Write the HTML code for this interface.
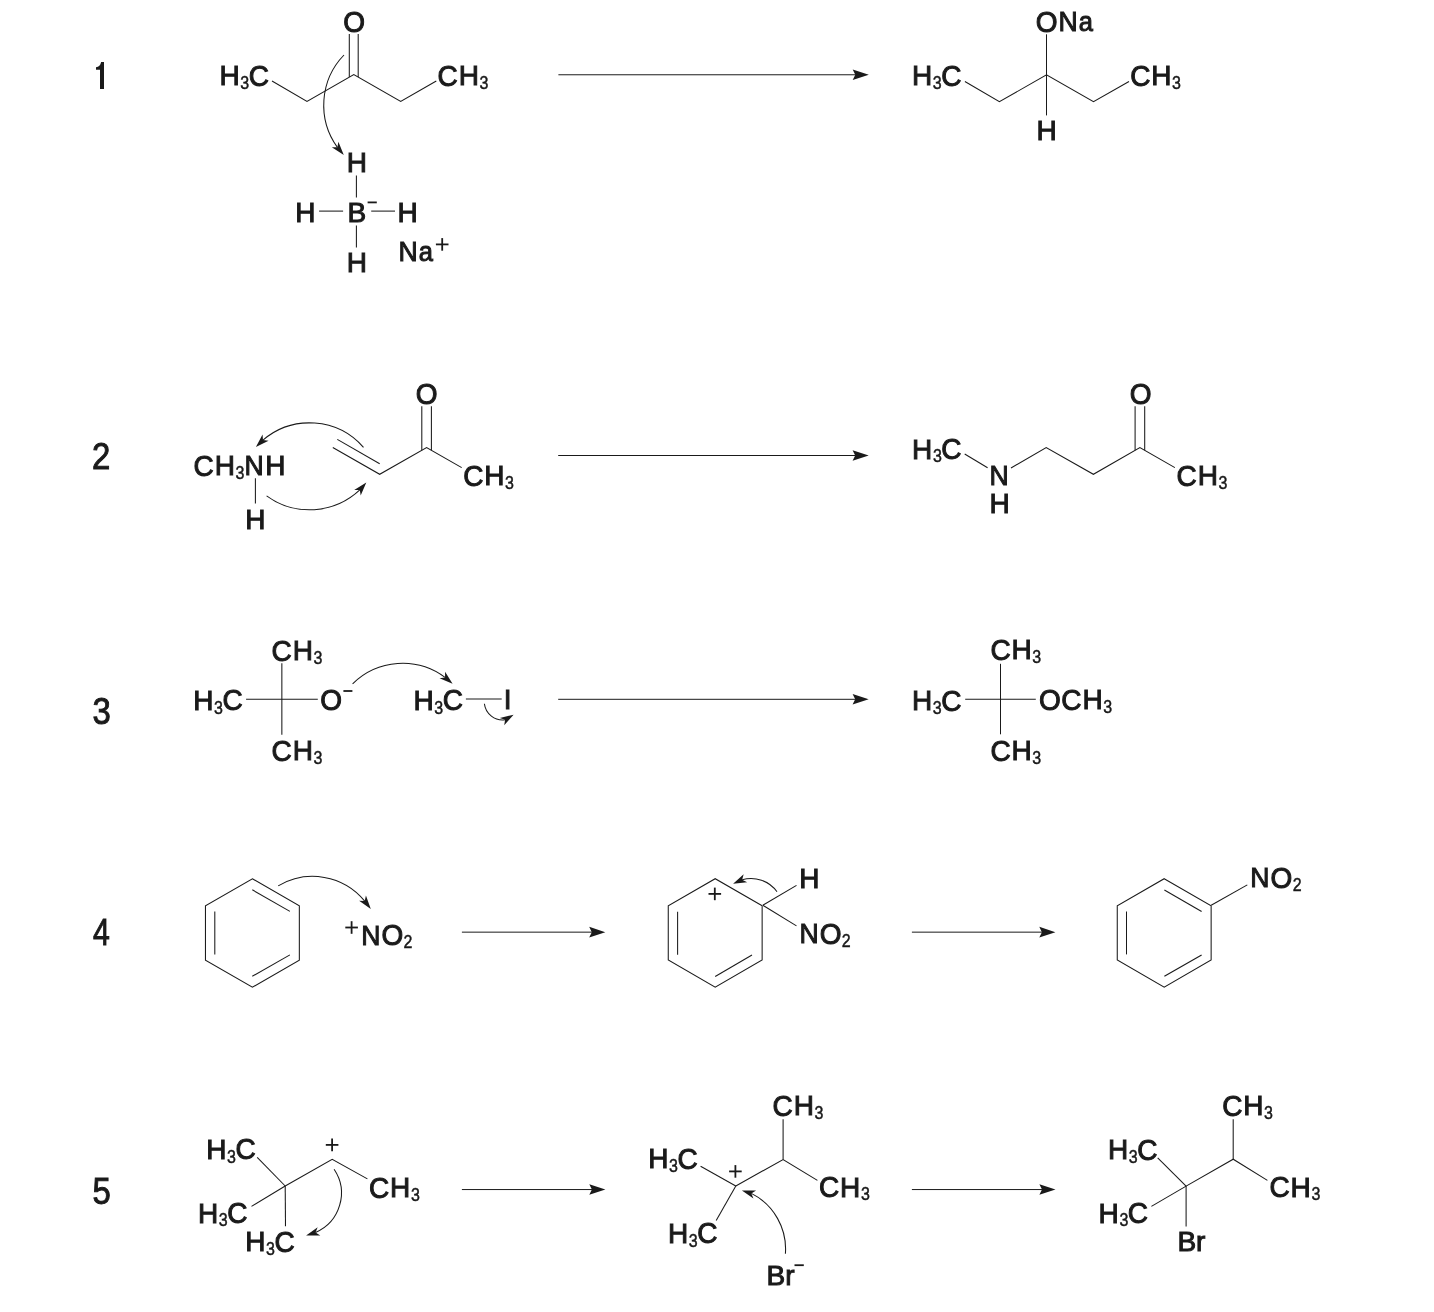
<!DOCTYPE html>
<html><head><meta charset="utf-8"><style>
html,body{margin:0;padding:0;background:#fff;}
svg{display:block;filter:grayscale(1);}
text{font-family:"Liberation Sans",sans-serif;fill:#1a1a1a;stroke:#1a1a1a;font-kerning:none;}
line,polyline,path{stroke:#1a1a1a;fill:none;stroke-linecap:butt;stroke-linejoin:miter;}
path.f{fill:#1a1a1a;stroke:none;}
</style></head><body>
<svg width="1434" height="1312" viewBox="0 0 1434 1312">
<rect width="1434" height="1312" fill="#fff"/>
<path class="f" d="M100 88.9 L104 88.9 L104 62.1 L101.1 62.1 C100.4 65.4 98.9 67.1 96 67.2 L96 69.8 L100 69.8 Z"/>
<text transform="translate(92.05 469.3) scale(0.87 1)" font-size="37.8" stroke-width="1">2</text>
<text transform="translate(92.45 724.1) scale(0.87 1)" font-size="37.8" stroke-width="1">3</text>
<text transform="translate(93.01 944.6) scale(0.8 1)" font-size="37.8" stroke-width="1">4</text>
<text transform="translate(92.38 1204.1) scale(0.87 1)" font-size="37.8" stroke-width="1">5</text>
<text x="219.4" y="85" font-size="28" stroke-width="1">H</text>
<text transform="translate(240.22 89) scale(0.85 1)" font-size="18.8" stroke-width="0.5">3</text>
<text transform="translate(248.67 86) scale(1 1.07)" font-size="28" stroke-width="0.97">C</text>
<polyline points="272,81 307,101.5 353.8,74.5 400.7,101.5 436.3,81" stroke-width="1.05"/>
<line x1="349.3" y1="33.9" x2="349.3" y2="77.1" stroke-width="1.05"/>
<line x1="358.2" y1="33.9" x2="358.2" y2="77.1" stroke-width="1.05"/>
<text transform="translate(343.17 32) scale(1 1.07)" font-size="28" stroke-width="0.97">O</text>
<text transform="translate(437.58 86) scale(1 1.07)" font-size="28" stroke-width="0.97">C</text>
<text x="458.7" y="85" font-size="28" stroke-width="1">H</text>
<text transform="translate(479.52 89) scale(0.85 1)" font-size="18.8" stroke-width="0.5">3</text>
<path class="f" d="M343.8 154.9 L331.81 147.35 L337.42 147.33 L338.38 141.81 Z"/>
<path d="M344 55 A72.04 72.04 0 0 0 337.42 147.33" stroke-width="1.05"/>
<text x="346.8" y="172" font-size="28" stroke-width="1">H</text>
<text x="347.5" y="222" font-size="28" stroke-width="1">B</text>
<line x1="367.6" y1="202.4" x2="376.8" y2="202.4" stroke-width="1.8"/>
<text x="295.3" y="222" font-size="28" stroke-width="1">H</text>
<text x="397.6" y="222" font-size="28" stroke-width="1">H</text>
<text x="346.8" y="272" font-size="28" stroke-width="1">H</text>
<line x1="356.4" y1="175.5" x2="356.4" y2="197.4" stroke-width="1.05"/>
<line x1="356.4" y1="225.5" x2="356.4" y2="247.5" stroke-width="1.05"/>
<line x1="319.1" y1="211.1" x2="343.1" y2="211.1" stroke-width="1.05"/>
<line x1="371.2" y1="211.1" x2="395" y2="211.1" stroke-width="1.05"/>
<text transform="translate(398.42 261) scale(0.95 1)" font-size="28" stroke-width="1.03">N</text>
<text transform="translate(418.64 261) scale(0.91 1)" font-size="28" stroke-width="1.05">a</text>
<line x1="435.9" y1="244.4" x2="448.5" y2="244.4" stroke-width="1.8"/>
<line x1="442.2" y1="238.1" x2="442.2" y2="250.7" stroke-width="1.8"/>
<line x1="558.4" y1="74.78" x2="855.8" y2="74.78" stroke-width="1"/>
<path class="f" d="M868.8 74.78 L852.7 69.48 L855.3 74.78 L852.7 80.08 Z"/>
<text x="912" y="85" font-size="28" stroke-width="1">H</text>
<text transform="translate(932.82 89) scale(0.85 1)" font-size="18.8" stroke-width="0.5">3</text>
<text transform="translate(941.27 86) scale(1 1.07)" font-size="28" stroke-width="0.97">C</text>
<text transform="translate(1130.18 86) scale(1 1.07)" font-size="28" stroke-width="0.97">C</text>
<text x="1151.3" y="85" font-size="28" stroke-width="1">H</text>
<text transform="translate(1172.12 89) scale(0.85 1)" font-size="18.8" stroke-width="0.5">3</text>
<polyline points="964.9,81.5 999.4,101.7 1046.5,74.9 1093.5,101.7 1129,81.5" stroke-width="1.05"/>
<line x1="1046.5" y1="34.3" x2="1046.5" y2="115.4" stroke-width="1.05"/>
<text transform="translate(1035.77 32) scale(1 1.07)" font-size="28" stroke-width="0.97">O</text>
<text transform="translate(1058.5 31) scale(0.95 1)" font-size="28" stroke-width="1.03">N</text>
<text transform="translate(1078.72 31) scale(0.91 1)" font-size="28" stroke-width="1.05">a</text>
<text x="1036.5" y="140" font-size="28" stroke-width="1">H</text>
<text transform="translate(193.58 476) scale(1 1.07)" font-size="28" stroke-width="0.97">C</text>
<text x="214.7" y="475" font-size="28" stroke-width="1">H</text>
<text transform="translate(235.52 479) scale(0.85 1)" font-size="18.8" stroke-width="0.5">3</text>
<text transform="translate(244.41 475) scale(0.95 1)" font-size="28" stroke-width="1.03">N</text>
<text x="265.33" y="475" font-size="28" stroke-width="1">H</text>
<line x1="255.4" y1="478.3" x2="255.4" y2="503.4" stroke-width="1.05"/>
<text x="245.2" y="529" font-size="28" stroke-width="1">H</text>
<polyline points="332.8,447.5 379.7,474.3 426.6,447.5 461.7,467.6" stroke-width="1.05"/>
<line x1="337.3" y1="439.4" x2="379.7" y2="463.7" stroke-width="1.05"/>
<line x1="421.8" y1="406.3" x2="421.8" y2="450.2" stroke-width="1.05"/>
<line x1="431.4" y1="406.3" x2="431.4" y2="450.2" stroke-width="1.05"/>
<text transform="translate(415.67 404) scale(1 1.07)" font-size="28" stroke-width="0.97">O</text>
<text transform="translate(463.18 486) scale(1 1.07)" font-size="28" stroke-width="0.97">C</text>
<text x="484.3" y="485" font-size="28" stroke-width="1">H</text>
<text transform="translate(505.12 489) scale(0.85 1)" font-size="18.8" stroke-width="0.5">3</text>
<path class="f" d="M255.9 447 L262.55 434.49 L262.98 440.08 L268.56 440.64 Z"/>
<path d="M363.5 447.4 A71.67 71.67 0 0 0 262.98 440.08" stroke-width="1.05"/>
<path class="f" d="M366.3 482.5 L360.7 495.51 L359.81 489.98 L354.2 489.88 Z"/>
<path d="M266.6 495.8 A73.29 73.29 0 0 0 359.81 489.98" stroke-width="1.05"/>
<line x1="558.2" y1="455.5" x2="855.7" y2="455.5" stroke-width="1"/>
<path class="f" d="M868.7 455.5 L852.6 450.2 L855.2 455.5 L852.6 460.8 Z"/>
<text x="912.1" y="459" font-size="28" stroke-width="1">H</text>
<text transform="translate(932.92 462) scale(0.85 1)" font-size="18.8" stroke-width="0.5">3</text>
<text transform="translate(941.37 459) scale(1 1.07)" font-size="28" stroke-width="0.97">C</text>
<line x1="964.7" y1="454" x2="987.6" y2="467.8" stroke-width="1.05"/>
<text transform="translate(989.62 485) scale(0.95 1)" font-size="28" stroke-width="1.03">N</text>
<text x="989.5" y="513" font-size="28" stroke-width="1">H</text>
<polyline points="1011,468 1046.2,447.5 1093.4,474.3 1139.9,447.5 1174.9,467.6" stroke-width="1.05"/>
<line x1="1135.1" y1="406.3" x2="1135.1" y2="450.2" stroke-width="1.05"/>
<line x1="1144.7" y1="406.3" x2="1144.7" y2="450.2" stroke-width="1.05"/>
<text transform="translate(1129.77 404) scale(1 1.07)" font-size="28" stroke-width="0.97">O</text>
<text transform="translate(1176.58 486) scale(1 1.07)" font-size="28" stroke-width="0.97">C</text>
<text x="1197.7" y="485" font-size="28" stroke-width="1">H</text>
<text transform="translate(1218.52 489) scale(0.85 1)" font-size="18.8" stroke-width="0.5">3</text>
<text transform="translate(271.58 661) scale(1 1.07)" font-size="28" stroke-width="0.97">C</text>
<text x="292.7" y="660" font-size="28" stroke-width="1">H</text>
<text transform="translate(313.52 664) scale(0.85 1)" font-size="18.8" stroke-width="0.5">3</text>
<line x1="281.85" y1="663.3" x2="281.85" y2="734.8" stroke-width="1.05"/>
<text x="193.2" y="710" font-size="28" stroke-width="1">H</text>
<text transform="translate(214.02 714) scale(0.85 1)" font-size="18.8" stroke-width="0.5">3</text>
<text transform="translate(222.47 710) scale(1 1.07)" font-size="28" stroke-width="0.97">C</text>
<line x1="246.1" y1="699.25" x2="317.8" y2="699.25" stroke-width="1.05"/>
<text transform="translate(320.37 710) scale(1 1.07)" font-size="28" stroke-width="0.97">O</text>
<line x1="343.4" y1="691" x2="352.4" y2="691" stroke-width="1.8"/>
<text transform="translate(271.58 761) scale(1 1.07)" font-size="28" stroke-width="0.97">C</text>
<text x="292.7" y="760" font-size="28" stroke-width="1">H</text>
<text transform="translate(313.52 764) scale(0.85 1)" font-size="18.8" stroke-width="0.5">3</text>
<path class="f" d="M452.6 683.8 L439.53 678.34 L445.05 677.39 L445.09 671.78 Z"/>
<path d="M352.6 683.8 A71.12 71.12 0 0 1 445.05 677.39" stroke-width="1.05"/>
<text x="413.5" y="710" font-size="28" stroke-width="1">H</text>
<text transform="translate(434.32 714) scale(0.85 1)" font-size="18.8" stroke-width="0.5">3</text>
<text transform="translate(442.77 710) scale(1 1.07)" font-size="28" stroke-width="0.97">C</text>
<line x1="465.9" y1="699" x2="501.7" y2="699" stroke-width="1.05"/>
<text x="503.82" y="709" font-size="28" stroke-width="1">I</text>
<path class="f" d="M513.6 714.7 L504.21 725.31 L505.1 719.78 L499.8 717.93 Z"/>
<path d="M484.4 703.7 A18.38 18.38 0 0 0 505.1 719.78" stroke-width="1.05"/>
<line x1="558.2" y1="699.3" x2="855.7" y2="699.3" stroke-width="1"/>
<path class="f" d="M868.7 699.3 L852.6 694 L855.2 699.3 L852.6 704.6 Z"/>
<text transform="translate(990.38 660) scale(1 1.07)" font-size="28" stroke-width="0.97">C</text>
<text x="1011.5" y="659" font-size="28" stroke-width="1">H</text>
<text transform="translate(1032.32 663) scale(0.85 1)" font-size="18.8" stroke-width="0.5">3</text>
<line x1="1000.5" y1="663.8" x2="1000.5" y2="734.3" stroke-width="1.05"/>
<text x="912" y="710" font-size="28" stroke-width="1">H</text>
<text transform="translate(932.82 714) scale(0.85 1)" font-size="18.8" stroke-width="0.5">3</text>
<text transform="translate(941.27 711) scale(1 1.07)" font-size="28" stroke-width="0.97">C</text>
<line x1="965.2" y1="699.3" x2="1035.8" y2="699.3" stroke-width="1.05"/>
<text transform="translate(1039.07 710) scale(1 1.07)" font-size="28" stroke-width="0.97">O</text>
<text transform="translate(1061.28 710) scale(1 1.07)" font-size="28" stroke-width="0.97">C</text>
<text x="1082.4" y="709" font-size="28" stroke-width="1">H</text>
<text transform="translate(1103.22 713) scale(0.85 1)" font-size="18.8" stroke-width="0.5">3</text>
<text transform="translate(990.38 761) scale(1 1.07)" font-size="28" stroke-width="0.97">C</text>
<text x="1011.5" y="760" font-size="28" stroke-width="1">H</text>
<text transform="translate(1032.32 764) scale(0.85 1)" font-size="18.8" stroke-width="0.5">3</text>
<path d="M252.4 878.8 L299.34 905.9 L299.34 960.1 L252.4 987.2 L205.46 960.1 L205.46 905.9 Z" stroke-width="1.05"/>
<line x1="252.3" y1="889.8" x2="289.9" y2="911.4" stroke-width="1.05"/>
<line x1="214.8" y1="911.5" x2="214.8" y2="954.6" stroke-width="1.05"/>
<line x1="252.3" y1="976.3" x2="289.9" y2="954.9" stroke-width="1.05"/>
<path class="f" d="M370.8 908.9 L359.13 900.86 L364.74 901.07 L365.93 895.59 Z"/>
<path d="M278.2 885.9 A67.28 67.28 0 0 1 364.74 901.07" stroke-width="1.05"/>
<line x1="345.3" y1="927.5" x2="357.9" y2="927.5" stroke-width="1.8"/>
<line x1="351.6" y1="921.2" x2="351.6" y2="933.8" stroke-width="1.8"/>
<text transform="translate(361.22 945) scale(0.95 1)" font-size="28" stroke-width="1.03">N</text>
<text transform="translate(381.44 945) scale(1 1.07)" font-size="28" stroke-width="0.97">O</text>
<text transform="translate(403.57 948) scale(0.85 1)" font-size="18.8" stroke-width="0.5">2</text>
<line x1="461.9" y1="932.15" x2="592.3" y2="932.15" stroke-width="1"/>
<path class="f" d="M605.3 932.15 L589.2 926.85 L591.8 932.15 L589.2 937.45 Z"/>
<polyline points="762.14,905.8 762.14,960 715.2,987.1 668.26,960 668.26,905.8 715.2,878.7 762.14,905.8" stroke-width="1.05"/>
<line x1="677.6" y1="911.8" x2="677.6" y2="954.7" stroke-width="1.05"/>
<line x1="715.2" y1="976.5" x2="752" y2="955" stroke-width="1.05"/>
<line x1="708.5" y1="893.9" x2="721.1" y2="893.9" stroke-width="1.8"/>
<line x1="714.8" y1="887.6" x2="714.8" y2="900.2" stroke-width="1.8"/>
<line x1="762.8" y1="905.3" x2="796.5" y2="885.4" stroke-width="1.05"/>
<line x1="762.8" y1="905.3" x2="796.5" y2="925.9" stroke-width="1.05"/>
<text x="799.3" y="888" font-size="28" stroke-width="1">H</text>
<text transform="translate(799.42 943) scale(0.95 1)" font-size="28" stroke-width="1.03">N</text>
<text transform="translate(819.64 944) scale(1 1.07)" font-size="28" stroke-width="0.97">O</text>
<text transform="translate(841.77 947) scale(0.85 1)" font-size="18.8" stroke-width="0.5">2</text>
<path class="f" d="M733.1 883.8 L743.66 874.35 L742.13 879.75 L747.18 882.2 Z"/>
<path d="M777 891.8 A31.91 31.91 0 0 0 742.13 879.75" stroke-width="1.05"/>
<line x1="911.9" y1="932.15" x2="1042.4" y2="932.15" stroke-width="1"/>
<path class="f" d="M1055.4 932.15 L1039.3 926.85 L1041.9 932.15 L1039.3 937.45 Z"/>
<path d="M1164.2 878.7 L1211.14 905.8 L1211.14 960 L1164.2 987.1 L1117.26 960 L1117.26 905.8 Z" stroke-width="1.05"/>
<line x1="1164.4" y1="890" x2="1201.6" y2="911.5" stroke-width="1.05"/>
<line x1="1126.5" y1="911.5" x2="1126.5" y2="954.4" stroke-width="1.05"/>
<line x1="1164.4" y1="976.2" x2="1201.6" y2="955" stroke-width="1.05"/>
<line x1="1211.2" y1="905.3" x2="1247.3" y2="884.9" stroke-width="1.05"/>
<text transform="translate(1250.32 887) scale(0.95 1)" font-size="28" stroke-width="1.03">N</text>
<text transform="translate(1270.54 888) scale(1 1.07)" font-size="28" stroke-width="0.97">O</text>
<text transform="translate(1292.67 891) scale(0.85 1)" font-size="18.8" stroke-width="0.5">2</text>
<line x1="285.2" y1="1186" x2="257.2" y2="1157.4" stroke-width="1.05"/>
<line x1="285.2" y1="1186" x2="251.5" y2="1206.4" stroke-width="1.05"/>
<line x1="285.2" y1="1186" x2="285.5" y2="1226.2" stroke-width="1.05"/>
<polyline points="285.2,1186 332.2,1159.3 367.4,1178.9" stroke-width="1.05"/>
<text x="206.3" y="1159" font-size="28" stroke-width="1">H</text>
<text transform="translate(227.12 1163) scale(0.85 1)" font-size="18.8" stroke-width="0.5">3</text>
<text transform="translate(235.57 1159) scale(1 1.07)" font-size="28" stroke-width="0.97">C</text>
<text x="197.9" y="1223" font-size="28" stroke-width="1">H</text>
<text transform="translate(218.72 1226) scale(0.85 1)" font-size="18.8" stroke-width="0.5">3</text>
<text transform="translate(227.17 1223) scale(1 1.07)" font-size="28" stroke-width="0.97">C</text>
<text x="245.2" y="1251" font-size="28" stroke-width="1">H</text>
<text transform="translate(266.02 1255) scale(0.85 1)" font-size="18.8" stroke-width="0.5">3</text>
<text transform="translate(274.47 1252) scale(1 1.07)" font-size="28" stroke-width="0.97">C</text>
<text transform="translate(368.98 1198) scale(1 1.07)" font-size="28" stroke-width="0.97">C</text>
<text x="390.1" y="1197" font-size="28" stroke-width="1">H</text>
<text transform="translate(410.92 1201) scale(0.85 1)" font-size="18.8" stroke-width="0.5">3</text>
<line x1="325.8" y1="1144.9" x2="338.4" y2="1144.9" stroke-width="1.8"/>
<line x1="332.1" y1="1138.6" x2="332.1" y2="1151.2" stroke-width="1.8"/>
<path class="f" d="M306.1 1235.5 L317.67 1227.33 L315.54 1232.51 L320.27 1235.52 Z"/>
<path d="M334.1 1169.2 A42.9 42.9 0 0 1 315.54 1232.51" stroke-width="1.05"/>
<line x1="461.9" y1="1189.55" x2="592.4" y2="1189.55" stroke-width="1"/>
<path class="f" d="M605.4 1189.55 L589.3 1184.25 L591.9 1189.55 L589.3 1194.85 Z"/>
<line x1="700.6" y1="1166.2" x2="735.8" y2="1186" stroke-width="1.05"/>
<line x1="716.2" y1="1220.6" x2="735.8" y2="1186" stroke-width="1.05"/>
<polyline points="735.8,1186 783.1,1159.5 817.4,1180.4" stroke-width="1.05"/>
<line x1="783.1" y1="1119.3" x2="783.1" y2="1159.5" stroke-width="1.05"/>
<text transform="translate(772.58 1116) scale(1 1.07)" font-size="28" stroke-width="0.97">C</text>
<text x="793.7" y="1115" font-size="28" stroke-width="1">H</text>
<text transform="translate(814.52 1119) scale(0.85 1)" font-size="18.8" stroke-width="0.5">3</text>
<text transform="translate(818.98 1197) scale(1 1.07)" font-size="28" stroke-width="0.97">C</text>
<text x="840.1" y="1197" font-size="28" stroke-width="1">H</text>
<text transform="translate(860.92 1200) scale(0.85 1)" font-size="18.8" stroke-width="0.5">3</text>
<text x="648.2" y="1168" font-size="28" stroke-width="1">H</text>
<text transform="translate(669.02 1172) scale(0.85 1)" font-size="18.8" stroke-width="0.5">3</text>
<text transform="translate(677.47 1169) scale(1 1.07)" font-size="28" stroke-width="0.97">C</text>
<text x="668" y="1243" font-size="28" stroke-width="1">H</text>
<text transform="translate(688.82 1247) scale(0.85 1)" font-size="18.8" stroke-width="0.5">3</text>
<text transform="translate(697.27 1243) scale(1 1.07)" font-size="28" stroke-width="0.97">C</text>
<line x1="729.1" y1="1171.4" x2="741.7" y2="1171.4" stroke-width="1.8"/>
<line x1="735.4" y1="1165.1" x2="735.4" y2="1177.7" stroke-width="1.8"/>
<text x="766.5" y="1285" font-size="28" stroke-width="1">B</text>
<text x="785.18" y="1285" font-size="28" stroke-width="1">r</text>
<line x1="794.5" y1="1265.2" x2="803.8" y2="1265.2" stroke-width="1.8"/>
<path class="f" d="M741.9 1190.4 L756.07 1190.4 L751.33 1193.4 L753.46 1198.59 Z"/>
<path d="M785.4 1253.7 A62.34 62.34 0 0 0 751.33 1193.4" stroke-width="1.05"/>
<line x1="911.9" y1="1189.55" x2="1042.5" y2="1189.55" stroke-width="1"/>
<path class="f" d="M1055.5 1189.55 L1039.4 1184.25 L1042 1189.55 L1039.4 1194.85 Z"/>
<line x1="1157.7" y1="1157.9" x2="1186.1" y2="1186.1" stroke-width="1.05"/>
<line x1="1151.4" y1="1206.4" x2="1186.1" y2="1186.1" stroke-width="1.05"/>
<line x1="1186.1" y1="1226.4" x2="1186.1" y2="1186.1" stroke-width="1.05"/>
<polyline points="1186.1,1186.1 1233.2,1159.2 1267.4,1180.4" stroke-width="1.05"/>
<line x1="1233.2" y1="1119.3" x2="1233.2" y2="1159.2" stroke-width="1.05"/>
<text transform="translate(1222.18 1116) scale(1 1.07)" font-size="28" stroke-width="0.97">C</text>
<text x="1243.3" y="1115" font-size="28" stroke-width="1">H</text>
<text transform="translate(1264.12 1119) scale(0.85 1)" font-size="18.8" stroke-width="0.5">3</text>
<text transform="translate(1269.48 1197) scale(1 1.07)" font-size="28" stroke-width="0.97">C</text>
<text x="1290.6" y="1197" font-size="28" stroke-width="1">H</text>
<text transform="translate(1311.42 1200) scale(0.85 1)" font-size="18.8" stroke-width="0.5">3</text>
<text x="1107.9" y="1159" font-size="28" stroke-width="1">H</text>
<text transform="translate(1128.72 1163) scale(0.85 1)" font-size="18.8" stroke-width="0.5">3</text>
<text transform="translate(1137.17 1160) scale(1 1.07)" font-size="28" stroke-width="0.97">C</text>
<text x="1098.6" y="1223" font-size="28" stroke-width="1">H</text>
<text transform="translate(1119.42 1226) scale(0.85 1)" font-size="18.8" stroke-width="0.5">3</text>
<text transform="translate(1127.87 1223) scale(1 1.07)" font-size="28" stroke-width="0.97">C</text>
<text x="1177.4" y="1251" font-size="28" stroke-width="1">B</text>
<text x="1196.08" y="1251" font-size="28" stroke-width="1">r</text>
</svg></body></html>
